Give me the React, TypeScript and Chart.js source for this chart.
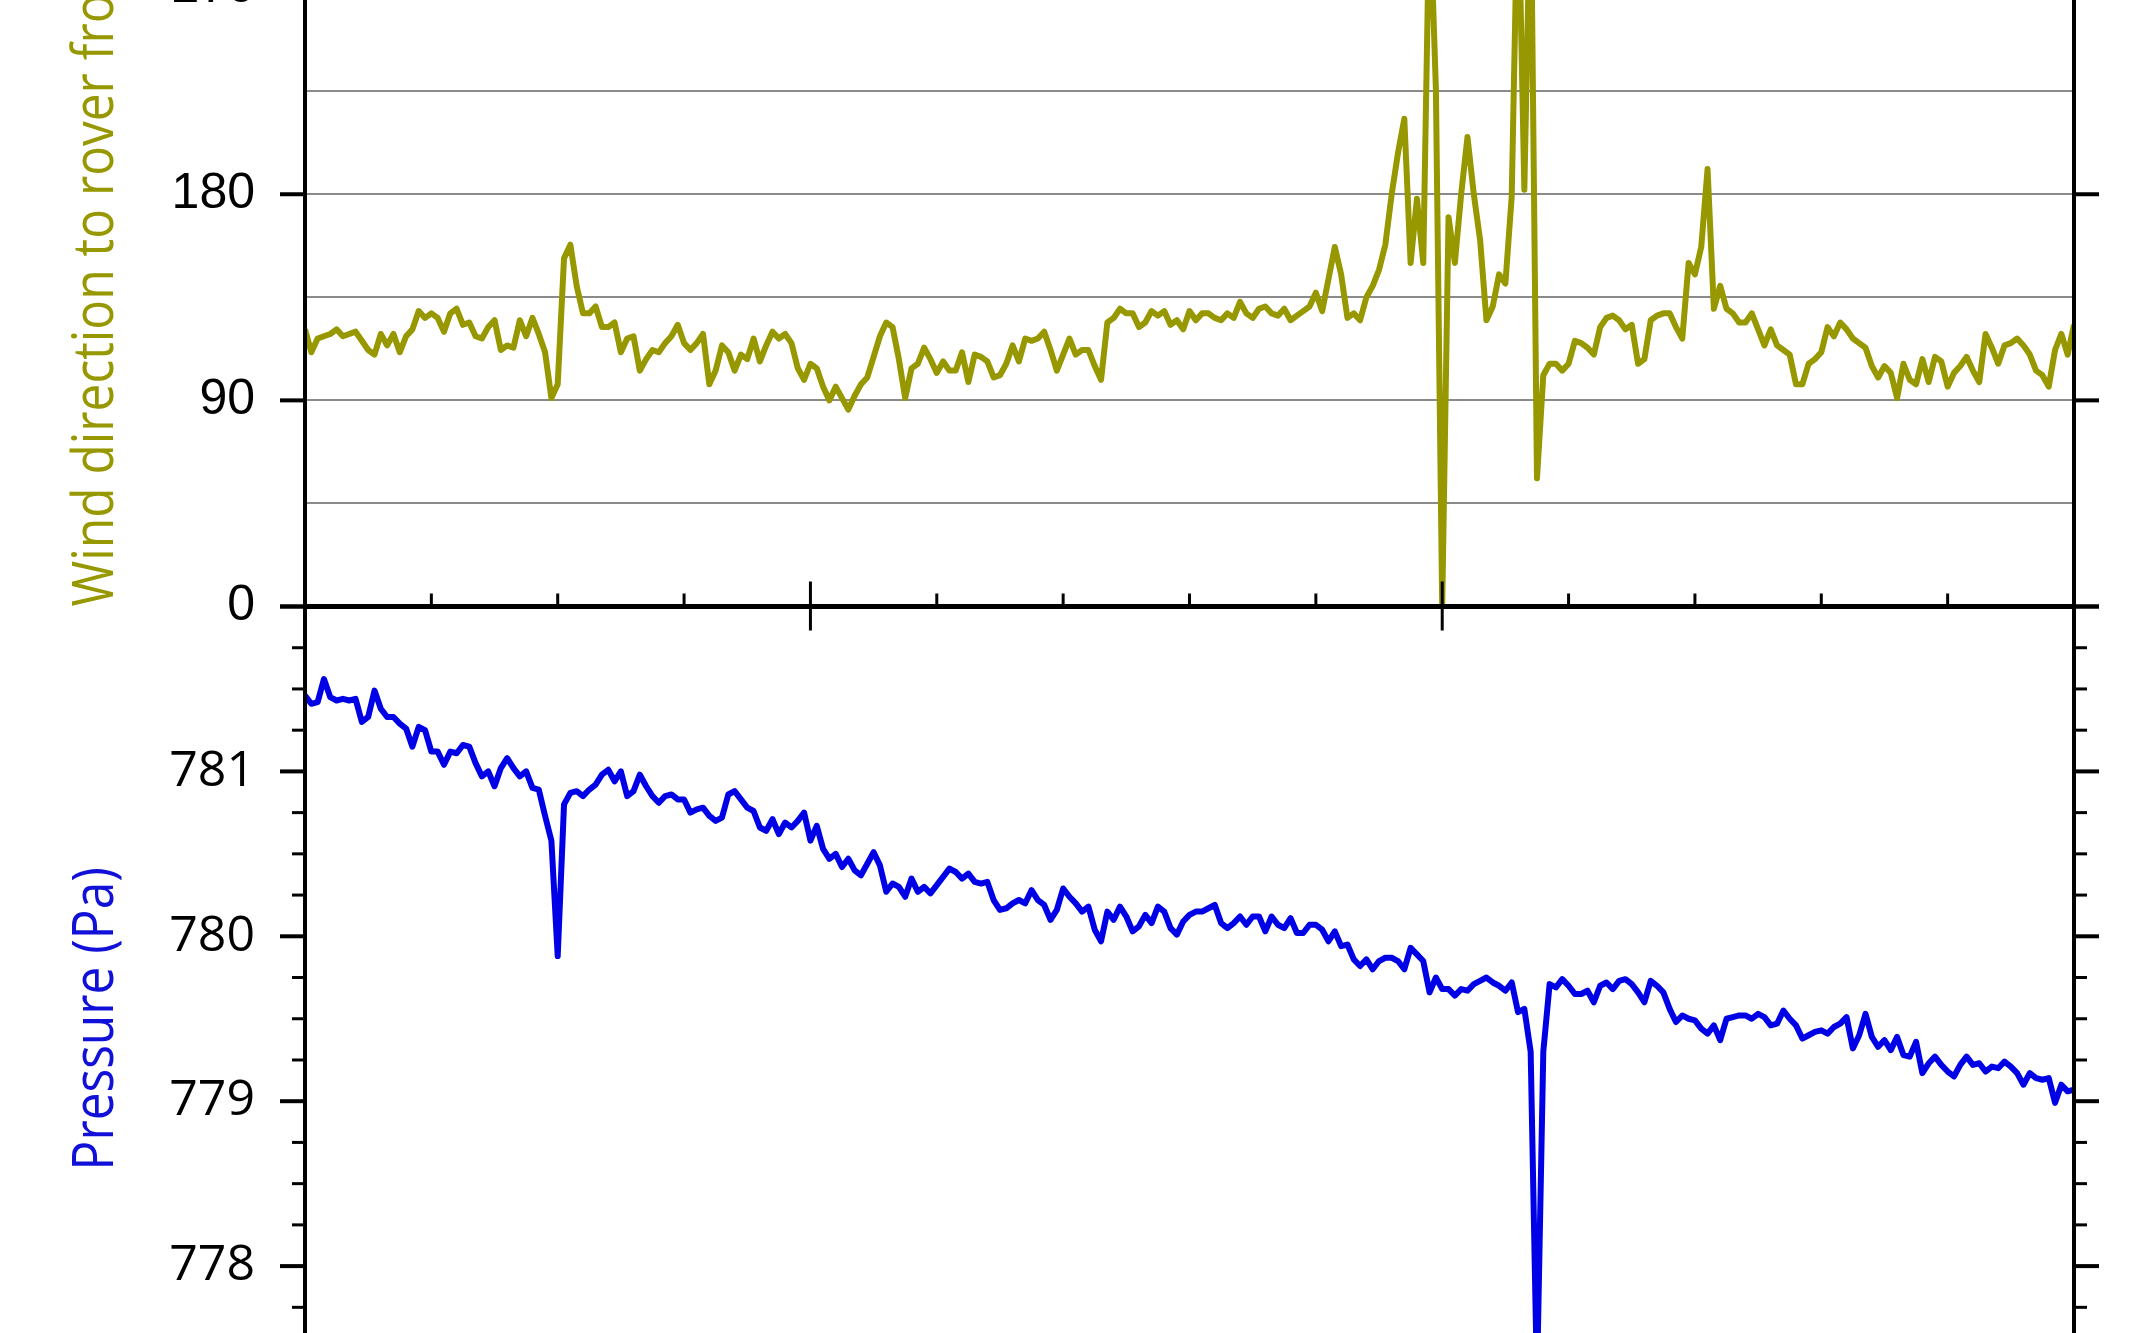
import { useEffect, useRef } from 'react';
import { Chart, registerables, type Plugin } from 'chart.js';

Chart.register(...registerables);

// sampling of both records (s)
const TIME_START = -40;
const TIME_STEP = 0.5;

// wind direction relative to rover front (deg), one value per sample
const WIND_DIR = [
  121, 111, 117, 118, 119, 121, 118, 119, 120, 116,
  112, 110, 119, 114, 119, 111, 118, 121, 129, 126,
  128, 126, 120, 128, 130, 123, 124, 118, 117, 122,
  125, 112, 114, 113, 125, 118, 126, 119, 111, 91,
  97, 152, 158, 140, 128, 128, 131, 122, 122, 124,
  111, 117, 118, 103, 108, 112, 111, 115, 118, 123,
  115, 112, 115, 119, 97, 103, 114, 111, 103, 110,
  108, 117, 107, 114, 120, 117, 119, 115, 104, 99,
  106, 104, 96, 90, 96, 91, 86, 92, 97, 100,
  109, 118, 124, 122, 108, 91, 104, 106, 113, 108,
  102, 107, 103, 103, 111, 98, 110, 109, 107, 100,
  101, 106, 114, 107, 117, 116, 117, 120, 112, 103,
  110, 117, 110, 112, 112, 105, 99, 124, 126, 130,
  128, 128, 122, 124, 129, 127, 129, 123, 125, 121,
  129, 125, 128, 128, 126, 125, 128, 126, 133, 128,
  126, 130, 131, 128, 127, 130, 125, 127, 129, 131,
  137, 129, 143, 157, 145, 126, 128, 125, 135, 140,
  147, 158, 180, 198, 213, 150, 178, 150, 310, 226,
  0, 170, 150, 180, 205, 180, 160, 125, 131, 145,
  141, 179, 320, 182, 320, 56, 101, 106, 106, 103,
  106, 116, 115, 113, 110, 122, 126, 127, 125, 121,
  123, 106, 108, 125, 127, 128, 128, 122, 117, 150,
  145, 157, 191, 130, 140, 130, 128, 124, 124, 128,
  121, 114, 121, 114, 112, 110, 97, 97, 106, 108,
  111, 122, 118, 124, 121, 117, 115, 113, 105, 100,
  105, 102, 91, 106, 99, 97, 108, 98, 109, 107,
  96, 102, 105, 109, 103, 98, 119, 113, 106, 114,
  115, 117, 114, 110, 103, 101, 96, 112, 119, 110, 123,
];

// surface pressure (Pa), same samples
const PRESSURE = [
  781.46, 781.41, 781.42, 781.56, 781.45, 781.43, 781.44, 781.43, 781.44, 781.30,
  781.33, 781.49, 781.38, 781.33, 781.33, 781.29, 781.26, 781.15, 781.27, 781.25,
  781.12, 781.12, 781.04, 781.12, 781.11, 781.16, 781.15, 781.05, 780.97, 781.00,
  780.91, 781.02, 781.08, 781.02, 780.97, 781.00, 780.90, 780.89, 780.73, 780.58,
  779.88, 780.80, 780.87, 780.88, 780.85, 780.89, 780.92, 780.98, 781.01, 780.94,
  781.00, 780.85, 780.88, 780.98, 780.91, 780.85, 780.81, 780.85, 780.86, 780.83,
  780.83, 780.75, 780.77, 780.78, 780.73, 780.70, 780.72, 780.86, 780.88, 780.83,
  780.78, 780.76, 780.66, 780.64, 780.71, 780.62, 780.69, 780.66, 780.70, 780.75,
  780.58, 780.67, 780.53, 780.47, 780.50, 780.42, 780.47, 780.40, 780.37, 780.44,
  780.51, 780.43, 780.27, 780.32, 780.30, 780.24, 780.35, 780.27, 780.30, 780.26,
  780.31, 780.36, 780.41, 780.39, 780.35, 780.38, 780.33, 780.32, 780.33, 780.22,
  780.16, 780.17, 780.20, 780.22, 780.20, 780.28, 780.22, 780.19, 780.10, 780.16,
  780.29, 780.24, 780.20, 780.15, 780.18, 780.04, 779.97, 780.15, 780.10, 780.18,
  780.12, 780.03, 780.06, 780.13, 780.08, 780.18, 780.15, 780.05, 780.01, 780.09,
  780.13, 780.15, 780.15, 780.17, 780.19, 780.08, 780.05, 780.08, 780.12, 780.07,
  780.12, 780.12, 780.03, 780.12, 780.07, 780.05, 780.11, 780.02, 780.02, 780.07,
  780.07, 780.04, 779.97, 780.03, 779.94, 779.95, 779.86, 779.82, 779.86, 779.80,
  779.85, 779.87, 779.87, 779.85, 779.80, 779.93, 779.89, 779.85, 779.66, 779.75,
  779.68, 779.68, 779.64, 779.68, 779.67, 779.71, 779.73, 779.75, 779.72, 779.70,
  779.67, 779.72, 779.54, 779.56, 779.30, 777.30, 779.30, 779.71, 779.69, 779.74,
  779.70, 779.65, 779.65, 779.67, 779.60, 779.70, 779.72, 779.68, 779.73, 779.74,
  779.71, 779.66, 779.60, 779.73, 779.70, 779.66, 779.56, 779.48, 779.52, 779.50,
  779.49, 779.44, 779.41, 779.46, 779.37, 779.50, 779.51, 779.52, 779.52, 779.50,
  779.53, 779.51, 779.46, 779.47, 779.55, 779.50, 779.46, 779.38, 779.40, 779.42,
  779.43, 779.41, 779.45, 779.47, 779.51, 779.32, 779.40, 779.53, 779.39, 779.33,
  779.37, 779.31, 779.39, 779.28, 779.27, 779.36, 779.17, 779.23, 779.27, 779.22,
  779.18, 779.15, 779.22, 779.27, 779.22, 779.23, 779.18, 779.21, 779.20, 779.24,
  779.21, 779.17, 779.10, 779.17, 779.14, 779.13, 779.14, 778.99, 779.10, 779.06, 779.07,
];

// axis ranges / tick spacing
const X_MIN = -40, X_MAX = 100, X_MINOR = 10, X_MAJOR = 50;
const WIND_MIN = 0, WIND_MAX = 360, WIND_GRID = 45, WIND_LABEL = 90;
const PRES_MIN = 777, PRES_MAX = 782, PRES_STEP = 0.25;

const WIND_TITLE = 'Wind direction to rover front (°)';
const PRES_TITLE = 'Pressure (Pa)';

const OLIVE = '#979700';
const BLUE = '#0000e6';
const TITLE_FONT = '57px "Open Sans", sans-serif';

const isWhole = (v: number) => Math.abs(v - Math.round(v)) < 1e-6;

const framePlugin: Plugin<'line'> = {
  id: 'frame',
  afterDatasetsDraw(chart) {
    const { ctx, chartArea: a, scales } = chart;
    const x = scales.x, w = scales.wind, p = scales.pres;
    const y0 = w.bottom;
    const seg = (x1: number, y1: number, x2: number, y2: number, lw: number) => {
      ctx.lineWidth = lw;
      ctx.beginPath();
      ctx.moveTo(x1, y1);
      ctx.lineTo(x2, y2);
      ctx.stroke();
    };
    ctx.save();
    ctx.strokeStyle = '#000';

    // y ticks, both sides
    for (const t of w.ticks) {
      if (t.value % WIND_LABEL !== 0) continue;
      const py = w.getPixelForValue(t.value);
      seg(a.left - 25, py, a.left, py, 4);
      seg(a.right, py, a.right + 25, py, 4);
    }
    for (const t of p.ticks) {
      const major = isWhole(t.value);
      const py = p.getPixelForValue(t.value);
      const len = major ? 25 : 13;
      seg(a.left - len, py, a.left, py, major ? 4 : 3);
      seg(a.right, py, a.right + len, py, major ? 4 : 3);
    }

    // time ticks on the shared boundary
    for (let v = X_MIN + X_MINOR; v < X_MAX; v += X_MINOR) {
      const px = x.getPixelForValue(v);
      if (v % X_MAJOR === 0) seg(px, y0 - 25, px, y0 + 24, 3);
      else seg(px, y0 - 13, px, y0, 3);
    }

    // frame
    seg(a.left, a.top, a.left, a.bottom, 4);
    seg(a.right, a.top, a.right, a.bottom, 4);
    seg(a.left, y0, a.right, y0, 5);
    ctx.restore();
  },
  afterDraw(chart) {
    const { ctx, scales } = chart;
    const w = scales.wind, p = scales.pres;
    ctx.save();
    ctx.font = TITLE_FONT;
    ctx.textBaseline = 'alphabetic';

    ctx.save();
    ctx.translate(113, w.bottom);
    ctx.rotate(-Math.PI / 2);
    ctx.scale(0.87, 1);
    ctx.fillStyle = OLIVE;
    ctx.textAlign = 'left';
    ctx.fillText(WIND_TITLE, 0, 0);
    ctx.restore();

    ctx.save();
    ctx.translate(113, (p.top + p.bottom) / 2);
    ctx.rotate(-Math.PI / 2);
    ctx.scale(0.87, 1);
    ctx.fillStyle = '#1010d8';
    ctx.textAlign = 'center';
    ctx.fillText(PRES_TITLE, 0, 0);
    ctx.restore();

    ctx.restore();
  },
};

function WindPressureChart() {
  const canvasRef = useRef<HTMLCanvasElement>(null);

  useEffect(() => {
    if (!canvasRef.current) return;
    const times = WIND_DIR.map((_, i) => TIME_START + i * TIME_STEP);

    const chart = new Chart(canvasRef.current, {
      type: 'line',
      plugins: [framePlugin],
      data: {
        datasets: [
          {
            label: 'Pressure',
            data: times.map((t, i) => ({ x: t, y: PRESSURE[i] })),
            xAxisID: 'x',
            yAxisID: 'pres',
            borderColor: BLUE,
            borderWidth: 6,
            pointRadius: 0,
            tension: 0,
            borderJoinStyle: 'round',
          },
          {
            label: 'Wind direction',
            data: times.map((t, i) => ({ x: t, y: WIND_DIR[i] })),
            xAxisID: 'x',
            yAxisID: 'wind',
            borderColor: OLIVE,
            borderWidth: 6,
            pointRadius: 0,
            tension: 0,
            borderJoinStyle: 'round',
          },
        ],
      },
      options: {
        animation: false,
        responsive: true,
        maintainAspectRatio: false,
        events: [],
        layout: { padding: { top: 40, bottom: 40, left: 0, right: 80 } },
        plugins: {
          legend: { display: false },
          tooltip: { enabled: false },
        },
        scales: {
          x: { type: 'linear', min: X_MIN, max: X_MAX, display: false },
          pres: {
            type: 'linear',
            position: 'left',
            stack: 'panels',
            stackWeight: 1,
            min: PRES_MIN,
            max: PRES_MAX,
            border: { display: false },
            // invisible tick marks only reserve the gap before the labels
            grid: { drawOnChartArea: false, drawTicks: true, tickLength: 50, tickColor: 'rgba(0,0,0,0)' },
            ticks: {
              stepSize: PRES_STEP,
              autoSkip: false,
              padding: 0,
              color: '#000',
              font: { family: '"Open Sans", sans-serif', size: 50 },
              callback: (v) => (isWhole(+v) && +v < PRES_MAX ? String(Math.round(+v)) : ''),
            },
            afterFit: (s) => { s.width = 305; },
          },
          wind: {
            type: 'linear',
            position: 'left',
            stack: 'panels',
            stackWeight: 1,
            min: WIND_MIN,
            max: WIND_MAX,
            border: { display: false },
            grid: { color: '#8a8a8a', lineWidth: 2, drawTicks: true, tickLength: 50, tickColor: 'rgba(0,0,0,0)' },
            ticks: {
              stepSize: WIND_GRID,
              autoSkip: false,
              padding: 0,
              color: '#000',
              font: { family: '"Liberation Sans", Arial, sans-serif', size: 50 },
              callback: (v) => (+v % WIND_LABEL === 0 ? String(v) : ''),
            },
            afterFit: (s) => { s.width = 305; },
          },
        },
      },
    });

    return () => chart.destroy();
  }, []);

  return (
    <div style={{ position: 'fixed', inset: 0, overflow: 'hidden', background: '#fff' }}>
      <div style={{ position: 'absolute', left: 0, top: -258, width: 2154, height: 1729 }}>
        <canvas ref={canvasRef} />
      </div>
    </div>
  );
}

export default function App() {
  return <WindPressureChart />;
}
